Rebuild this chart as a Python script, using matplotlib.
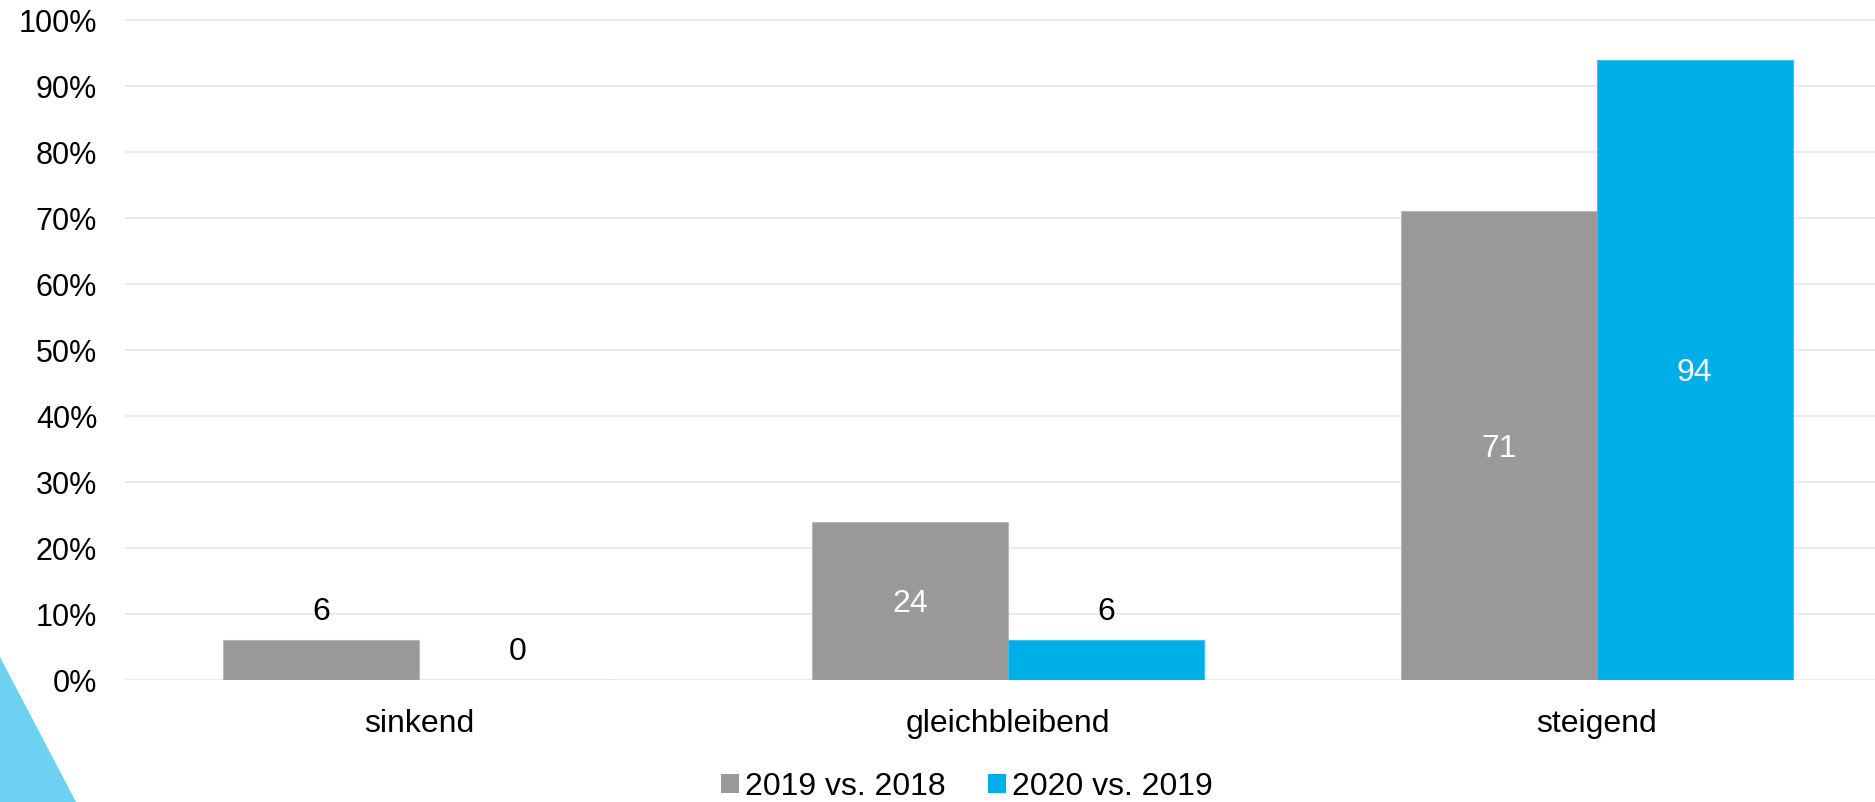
import matplotlib
matplotlib.use("Agg")
import matplotlib.pyplot as plt
from matplotlib.patches import Polygon, Patch
import numpy as np

plt.rcParams['font.family'] = ['Liberation Sans', 'DejaVu Sans']

categories = ["sinkend", "gleichbleibend", "steigend"]
series_names = ["2019 vs. 2018", "2020 vs. 2019"]
values_2019 = [6, 24, 71]
values_2020 = [0, 6, 94]
y_ticks = list(range(0, 101, 10))
y_tick_labels = [f"{t}%" for t in y_ticks]

colors = ["#999999", "#00AEE8"]
edge_colors = ["#b9b9b9", "#3cc2ef"]
FS_Y = 22
FS = 23

W, H = 1875, 802
fig = plt.figure(figsize=(W / 100, H / 100), dpi=100)

# plot area in pixels: left 125, right 1891 (runs past the canvas), 0% at y=680, 100% at y=20
ymax = 101
px_per_unit = 66.0 / 10
left, right = 125, 1891
bottom_px = 680
top_px = bottom_px - px_per_unit * ymax
ax = fig.add_axes([left / W, (H - bottom_px) / H, (right - left) / W, (bottom_px - top_px) / H])

x = np.arange(len(categories))
bw = 0.333
series = [values_2019, values_2020]
offsets = [-bw / 2, bw / 2]

for vals, off, c, ec in zip(series, offsets, colors, edge_colors):
    bars = ax.bar(x + off, vals, width=bw, color=c, edgecolor=ec, linewidth=0.8, zorder=2)
    for b, v in zip(bars, vals):
        cx = b.get_x() + b.get_width() / 2
        if v >= 15:
            ax.text(cx, v / 2, f"{v}", ha="center", va="center_baseline", color="white",
                    fontsize=FS, zorder=3)
        else:
            ax.annotate(f"{v}", (cx, v), xytext=(0, 14.4), textcoords="offset points",
                        ha="center", va="baseline", color="black", fontsize=FS, zorder=3)

ax.set_xlim(-0.5, len(categories) - 0.5)
ax.set_ylim(0, ymax)
ax.set_yticks(y_ticks)
ax.set_yticklabels(y_tick_labels)
ax.set_xticks(x)
ax.set_xticklabels(categories)
ax.tick_params(axis="y", length=0, pad=20, labelsize=FS_Y)
ax.tick_params(axis="x", length=0, pad=21, labelsize=FS)
ax.yaxis.grid(True, color="#ececec", linewidth=1.5)
ax.set_axisbelow(True)
for s in ax.spines.values():
    s.set_visible(False)

# legend below the plot
handles = [Patch(facecolor=c, edgecolor="none") for c in colors]
fig.legend(handles, series_names, loc="center", bbox_to_anchor=(967 / W, (H - 787) / H),
           ncol=2, frameon=False, fontsize=FS, handlelength=0.56, handleheight=0.56,
           handletextpad=0.19, columnspacing=1.32, borderpad=0, borderaxespad=0)

# decorative corner triangle
tri = Polygon([(0, (H - 657) / H), (76 / W, 0), (0, 0)], closed=True,
              transform=fig.transFigure, facecolor="#6FD1F1", edgecolor="none")
fig.patches.append(tri)

fig.savefig("out.png", dpi=100)
